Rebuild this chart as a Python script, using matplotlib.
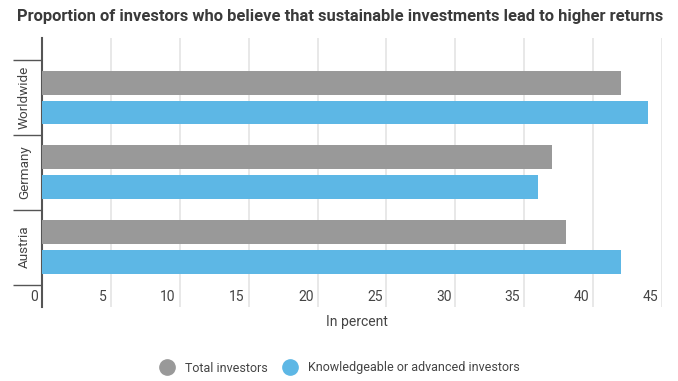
import matplotlib
matplotlib.use("Agg")
import matplotlib.pyplot as plt
import matplotlib.transforms as mtransforms
from matplotlib.lines import Line2D
import numpy as np

plt.rcParams['font.family'] = ['Roboto', 'DejaVu Sans']

# data (percent)
regions = ["Worldwide", "Germany", "Austria"]
total = [42, 37, 38]
knowledgeable = [44, 36, 42]
series_names = ["Total investors", "Knowledgeable or advanced investors"]
xticks = [0, 5, 10, 15, 20, 25, 30, 35, 40, 45]

gray = "#999999"
blue = "#5db7e5"
txt = "#444444"

fig = plt.figure(figsize=(6.78, 3.81), dpi=100)
ax = fig.add_axes([42/678, 74/381, 620/678, 269.3/381])

y = np.arange(len(regions))
h = 0.32
ax.barh(y - 0.2, total, height=h, color=gray, zorder=3)
ax.barh(y + 0.2, knowledgeable, height=h, color=blue, zorder=3)

ax.set_xlim(0, 45)
ax.set_ylim(2.8, -0.8)

# vertical grid running through the tick-label band
for xv in xticks[1:]:
    ax.axvline(xv, color="#e4e4e4", lw=1.2, zorder=0)

# x tick labels sit inside the axes, right-aligned left of the gridline
off = mtransforms.ScaledTranslation(-4/100, 0, fig.dpi_scale_trans)
for xv in xticks:
    ax.text(xv, 2.66, str(xv), ha="right", va="center", fontsize=10,
            color=txt, transform=ax.transData + off)
ax.set_xticks([])

# category ticks: long ticks at the boundaries, labels rotated in between
ax.set_yticks(y)
ax.set_yticklabels(regions, rotation=90, va="center", fontsize=9.7, color=txt)
ax.tick_params(axis="y", which="major", length=0, pad=8)
ax.set_yticks(np.arange(-0.5, len(regions)), minor=True)
ax.tick_params(axis="y", which="minor", length=21, width=1, color="#555555")

for s in ["top", "right", "bottom"]:
    ax.spines[s].set_visible(False)
ax.spines["left"].set_color("#555555")
ax.spines["left"].set_linewidth(1.5)

fig.text(357/678, 1 - 322/381, "In percent", ha="center", va="center",
         fontsize=10, color=txt)

fig.text(17/678, 1 - 16/381,
         "Proportion of investors who believe that sustainable investments lead to higher returns",
         ha="left", va="center", fontsize=11.85, fontweight="bold", color="#3a3a3a")

handles = [Line2D([], [], marker="o", ls="", markersize=11, color=gray),
           Line2D([], [], marker="o", ls="", markersize=11, color=blue)]
fig.legend(handles, series_names, loc="center", bbox_to_anchor=(337/678, 1 - 368/381),
           ncol=2, frameon=False, fontsize=9, handletextpad=0.4, columnspacing=0.8,
           labelcolor=txt)

fig.savefig("out.png", dpi=100)
